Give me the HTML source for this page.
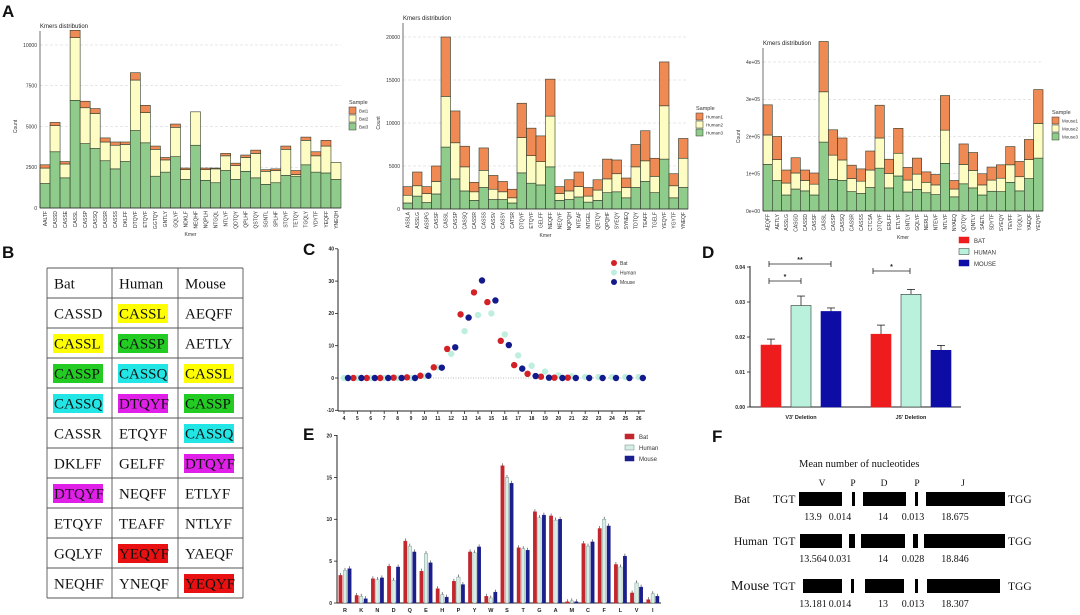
<!DOCTYPE html>
<html><head><meta charset="utf-8"><style>
html,body{margin:0;padding:0;background:#fff;}
svg{display:block;font-family:"Liberation Sans",sans-serif;}
.serif{font-family:"Liberation Serif",serif;}
</style></head><body>
<svg id="fig" width="1080" height="615" viewBox="0 0 1080 615"></svg>
<script>
// ---------- DATA ----------
// Panel A1 (Bat) cumulative stack tops
const a1Cats=["AALTF","CASSD","CASSE","CASSL","CASSP","CASSQ","CASSR","CASSS","DKLFF","DTQYF","ETQYF","GGTQY","GNTLY","GQLYF","NDKLF","NEQHF","NQPLH","NTGQL","NTLYF","QDTQY","QPLHF","QSTQY","SGNTL","SPLHF","STQYF","TETQY","TGQLY","YDYTF","YEQFF","YNEQH"];
const a1Bat3=[1500,3450,1850,6600,3950,3650,2900,2400,2850,4750,4000,1950,2200,3150,1750,3850,1700,1550,2300,1750,2250,1850,1450,1550,2000,1950,2650,2200,2150,1750];
const a1Bat3plus2=[2450,5050,2700,10450,6150,5800,4050,3850,3900,7850,5850,3600,2950,4950,2350,5900,2350,2400,3200,2600,3100,3350,2250,2300,3600,2050,4150,3200,3800,2800];
const a1Total=[2650,5250,2850,10900,6550,6100,4300,4050,4050,8300,6300,3800,3100,5150,2450,5900,2450,2450,3350,2750,3250,3550,2350,2400,3800,2300,4350,3450,4150,2800];
const a1Ticks=[0,2500,5000,7500,10000];
const a1TickLabels=["0","2500","5000","7500","10000"];
// Panel A2 (Human)
const a2Cats=["ASSLA","ASSLG","ASSPG","CASSF","CASSL","CASSP","CASSQ","CASSR","CASSS","CASSV","CASSY","CATSR","DTQYF","ETQYF","GELFF","NEQFF","NEQYF","NQPQH","NTEAF","NTGEL","QETQY","QPQHF","SYEQY","SYNEQ","TDTQY","TEAFF","TGELF","YEQYF","YGYTF","YNEQF"];
const a2Human3=[700,1500,750,1750,7200,3500,2100,1000,2500,1100,1100,700,4200,3000,2800,4900,1000,1100,1400,800,1000,1900,2000,1300,2500,3200,1900,5800,1300,2500];
const a2Human3plus2=[1600,2700,1800,3200,13100,7700,4900,2000,4500,2300,2000,1300,8300,6200,5500,10800,1800,2100,2600,1500,2200,3500,4100,2500,4900,5600,3800,12000,2700,5900];
const a2Total=[2600,4300,2600,5000,20000,11400,7300,3100,7100,3900,3200,2300,12300,9400,8500,15100,2600,3400,4300,2500,3400,5800,5700,3600,7500,9100,5900,17100,4100,8200];
const a2Ticks=[0,5000,10000,15000,20000];
const a2TickLabels=["0","5000","10000","15000","20000"];
// Panel A3 (Mouse), thousands
const a3Cats=["AEQFF","AETLY","ASSLG","CASGD","CASSD","CASSF","CASSL","CASSP","CASSQ","CASSR","CASSS","CTCSA","DTQYF","ERLFF","ETLYF","GNTLY","GQLYF","NERLF","NTEVF","NTLYF","NYAEQ","QDTQY","QNTLY","SAETL","SDYTF","SYEQY","TEVFF","TGQLY","YAEQF","YEQYF"];
const a3Mouse3=[125,82,43,59,54,43,185,85,82,52,47,63,115,62,94,51,58,49,44,128,38,73,62,43,53,52,77,54,87,142];
const a3Mouse3plus2=[204,138,75,102,82,72,320,150,137,87,80,110,196,101,155,83,99,77,70,217,59,125,109,70,83,88,124,92,138,235];
const a3Total=[285,200,110,143,110,102,455,218,196,123,113,161,284,139,222,117,142,105,98,310,82,180,157,100,118,124,173,133,192,326];
const a3Ticks=[0,100,200,300,400];
const a3TickLabels=["0e+00","1e+05","2e+05","3e+05","4e+05"];
// Panel C
const cLengths=[4,5,6,7,8,9,10,11,12,13,14,15,16,17,18,19,20,21,22,23,24,25,26];
const cBat=[null,0,0,0,0.1,0.2,0.7,3.3,9,19.7,26.5,23.5,11.5,4,1.3,0.4,0.1,0.1,null,null,null,null,null];
const cHuman=[0,0,0,0,0,0,0.5,3.3,7.5,14.5,19.5,20,13.5,7,3.8,2,0.8,0.5,0.3,0.3,0.3,0.3,0.3];
const cMouse=[0,0,0,0,0,0,0.7,3.2,9.5,18.7,30.2,24,10.2,2.9,0.6,0.1,0,0,0,0,0,0,0];
const cTicks=[-10,0,10,20,30,40];
// Panel D
const dGroups=["V3' Deletion","J5' Deletion"];
const dBat=[0.0177,0.0208], dBatErr=[0.0017,0.0026];
const dHuman=[0.029,0.0322], dHumanErr=[0.0027,0.0014];
const dMouse=[0.0273,0.0162], dMouseErr=[0.001,0.0014];
const dTicks=[0,0.01,0.02,0.03,0.04];
const dTickLabels=["0.00","0.01","0.02","0.03","0.04"];
// Panel E
const eAA=["R","K","N","D","Q","E","H","P","Y","W","S","T","G","A","M","C","F","L","V","I"];
const eBat=[3.3,0.9,2.9,4.4,7.4,3.8,1.7,2.6,6.1,0.8,16.4,6.6,10.9,10.4,0.15,7.1,8.9,4.6,1.2,0.4];
const eHuman=[3.9,0.8,2.8,2.7,6.8,5.9,1.0,3.1,6.0,0.6,15.0,6.5,10.2,9.9,0.25,6.8,10.0,4.3,2.4,1.1];
const eMouse=[4.1,0.5,3.0,4.3,6.1,4.8,0.7,2.2,6.7,1.3,14.3,6.3,10.5,10.0,0.15,7.3,9.2,5.6,1.9,0.8];
const eTicks=[0,5,10,15,20];
// Panel F
const fSpecies=["Bat","Human","Mouse"];
const fV=["13.9","13.564","13.181"], fP1=["0.014","0.031","0.014"], fD=["14","14","13"], fP2=["0.013","0.028","0.013"], fJ=["18.675","18.846","18.307"];

// ---------- HELPERS ----------
const NS="http://www.w3.org/2000/svg";
const svg=document.getElementById('fig');
function el(tag,attrs,parent){const e=document.createElementNS(NS,tag);for(const k in attrs)e.setAttribute(k,attrs[k]);(parent||svg).appendChild(e);return e;}
function txt(s,attrs,parent){const e=el('text',attrs,parent);e.textContent=s;return e;}
function panelLabel(s,x,y){const t=txt(s,{x:x,y:y,'font-size':17,'font-weight':'bold',fill:'#111'});

}

const GREEN="#8fcb8a",YEL="#fdfcc2",ORG="#f08a55";

function stackChart(id,cats,c1,c2,c3,ticks,tickLabels,ax,y0,refPix,refVal,xEnd,legendNames,lx,ly){
  const g=el('g',{});
  
  
  const y=v=>y0-(v/refVal)*(y0-refPix);
  ticks.forEach((t,i)=>{
    if(t>0){const gl=el('line',{x1:ax,x2:xEnd,y1:y(t),y2:y(t),stroke:'#cfcfcf','stroke-width':0.6,'stroke-dasharray':'3,2'},g);
      
      }
    const tl=txt(tickLabels[i],{x:ax-3,y:y(t)+1.8,'font-size':5,'text-anchor':'end',fill:'#333'},g);
    
    
  });
  const n=cats.length,bw=(xEnd-ax)/n;
  cats.forEach((c,i)=>{
    const x=ax+i*bw;
    const r1=el('rect',{x:x,y:y(c1[i]),width:bw,height:y0-y(c1[i]),fill:GREEN,stroke:'#2d3a2a','stroke-width':0.6},g);
    
    
    const r2=el('rect',{x:x,y:y(c2[i]),width:bw,height:y(c1[i])-y(c2[i]),fill:YEL,stroke:'#2d3a2a','stroke-width':0.6},g);
    
    
    const r3=el('rect',{x:x,y:y(c3[i]),width:bw,height:y(c2[i])-y(c3[i]),fill:ORG,stroke:'#2d3a2a','stroke-width':0.6},g);
    
    
    const cl=txt(c,{x:0,y:0,'font-size':5,'text-anchor':'end',fill:'#333',transform:`translate(${x+bw/2+1.8},${y0+3}) rotate(-90)`},g);
    
    
  });
  el('line',{x1:ax,x2:ax,y1:refPix-14,y2:y0,stroke:'#333','stroke-width':0.7},g);
  el('line',{x1:ax,x2:xEnd,y1:y0,y2:y0,stroke:'#333','stroke-width':0.7},g);
  const tt=txt('Kmers distribution',{x:ax,y:refPix-17,'font-size':6,fill:'#222'},g);
  
  
  const xt=txt('Kmer',{x:(ax+xEnd)/2,y:y0+28,'font-size':5,'text-anchor':'middle',fill:'#333'},g);
  
  
  const yt=txt('Count',{x:0,y:0,'font-size':5,'text-anchor':'middle',fill:'#333',transform:`translate(${ax-23},${(y0+refPix)/2}) rotate(-90)`},g);
  
  
  const lg=el('g',{},g);
  
  
  txt('Sample',{x:lx,y:ly,'font-size':5.5,fill:'#333'},lg);
  [ORG,YEL,GREEN].forEach((col,k)=>{
    el('rect',{x:lx,y:ly+3+k*8,width:7,height:7,fill:col,stroke:'#333','stroke-width':0.5},lg);
    const le=txt(legendNames[k],{x:lx+10,y:ly+8.5+k*8,'font-size':4.5,fill:'#333'},lg);
    
    
  });
}

// ---------- PANEL A ----------
panelLabel('A',2,17);
stackChart('kmer-chart-bat',a1Cats,a1Bat3,a1Bat3plus2,a1Total,a1Ticks,a1TickLabels,40,208,45,10000,341,["Bat1","Bat2","Bat3"],349,104);
stackChart('kmer-chart-human',a2Cats,a2Human3,a2Human3plus2,a2Total,a2Ticks,a2TickLabels,403,209,37,20000,688,["Human1","Human2","Human3"],696,110);
stackChart('kmer-chart-mouse',a3Cats,a3Mouse3,a3Mouse3plus2,a3Total,a3Ticks,a3TickLabels,763,211,62,400,1043,["Mouse1","Mouse2","Mouse3"],1052,114);

// ---------- PANEL B ----------
panelLabel('B',2,258);
(function(){
  const rows=[["Bat","Human","Mouse"],["CASSD","CASSL","AEQFF"],["CASSL","CASSP","AETLY"],["CASSP","CASSQ","CASSL"],["CASSQ","DTQYF","CASSP"],["CASSR","ETQYF","CASSQ"],["DKLFF","GELFF","DTQYF"],["DTQYF","NEQFF","ETLYF"],["ETQYF","TEAFF","NTLYF"],["GQLYF","YEQYF","YAEQF"],["NEQHF","YNEQF","YEQYF"]];
  const hl={CASSL:"#ffff00",CASSP:"#22cc22",CASSQ:"#22e6e6",DTQYF:"#e020e8",YEQYF:"#e81010"};
  const colX=[47,112,178,243],top=268,rh=30;
  const g=el('g',{class:'serif'});
  
  
  rows.forEach((r,ri)=>{
    r.forEach((s,ci)=>{
      const x=colX[ci]+7,yy=top+ri*rh+rh/2;
      if(ri>0&&hl[s]){const hr=el('rect',{x:x-1,y:yy-9,width:s.length*10,height:19,fill:hl[s]},g);
        
        }
      const t=txt(s,{x:x,y:yy+5.5,'font-size':15,fill:'#111','font-family':'Liberation Serif, serif'},g);
      
      
    });
  });
  for(let i=0;i<=rows.length;i++)el('line',{x1:47,x2:243,y1:top+i*rh,y2:top+i*rh,stroke:'#555','stroke-width':0.9},g);
  colX.forEach(x=>el('line',{x1:x,x2:x,y1:top,y2:top+rows.length*rh,stroke:'#555','stroke-width':0.9},g));
})();

// ---------- PANEL C ----------
panelLabel('C',303,255);
(function(){
  const g=el('g',{});
  
  
  const X=c=>344+(c-4)*13.4, Y=v=>378-v*3.23;
  el('line',{x1:338,x2:338,y1:249,y2:411,stroke:'#222','stroke-width':1},g);
  el('line',{x1:338,x2:645,y1:411,y2:411,stroke:'#222','stroke-width':1},g);
  el('line',{x1:338,x2:645,y1:Y(0),y2:Y(0),stroke:'#777','stroke-width':0.6,'stroke-dasharray':'1,1.5'},g);
  cTicks.forEach(t=>{el('line',{x1:335,x2:338,y1:Y(t),y2:Y(t),stroke:'#222','stroke-width':0.8},g);
    const tl=txt(String(t),{x:334,y:Y(t)+1.8,'font-size':5,'text-anchor':'end','font-weight':'bold',fill:'#222'},g);
    
    });
  cLengths.forEach(c=>{el('line',{x1:X(c),x2:X(c),y1:411,y2:414,stroke:'#222','stroke-width':0.8},g);
    const tl=txt(String(c),{x:X(c),y:420,'font-size':5,'text-anchor':'middle','font-weight':'bold',fill:'#222'},g);
    
    });
  const series=[[cHuman,0,'#bdeedf','human'],[cBat,-0.3,'#d42027','bat'],[cMouse,0.3,'#131a8c','mouse']];
  series.forEach(s=>{
    cLengths.forEach((c,i)=>{const v=s[0][i]; if(v===null)return;
      const p=el('circle',{cx:X(c+s[1]),cy:Y(v),r:3.2,fill:s[2]},g);
      
      });
  });
  [['Bat','#d42027'],['Human','#bdeedf'],['Mouse','#131a8c']].forEach((l,k)=>{
    el('circle',{cx:614,cy:263+k*9.5,r:3,fill:l[1]},g);
    const le=txt(l[0],{x:620,y:265+k*9.5,'font-size':5,fill:'#333'},g);
    
    
  });
})();

// ---------- PANEL D ----------
panelLabel('D',702,258);
(function(){
  const g=el('g',{});
  
  
  const Y=v=>407-v*3500;
  el('line',{x1:750,x2:750,y1:266,y2:407,stroke:'#222','stroke-width':1},g);
  el('line',{x1:750,x2:961,y1:407,y2:407,stroke:'#222','stroke-width':1},g);
  dTicks.forEach((t,i)=>{el('line',{x1:747,x2:750,y1:Y(t),y2:Y(t),stroke:'#222','stroke-width':0.8},g);
    const tl=txt(dTickLabels[i],{x:745,y:Y(t)+1.8,'font-size':5,'text-anchor':'end','font-weight':'bold',fill:'#222'},g);
    
    });
  const groupX=[761,871];
  const sers=[[dBat,dBatErr,'#ee1c1c','#ee1c1c','bat'],[dHuman,dHumanErr,'#b9f1dc','#333','human'],[dMouse,dMouseErr,'#0d0da6','#0d0da6','mouse']];
  dGroups.forEach((gname,gi)=>{
    sers.forEach((s,si)=>{
      const x=groupX[gi]+si*30,v=s[0][gi],e=s[1][gi];
      el('line',{x1:x+10,x2:x+10,y1:Y(v),y2:Y(v+e),stroke:'#222','stroke-width':0.8},g);
      el('line',{x1:x+6,x2:x+14,y1:Y(v+e),y2:Y(v+e),stroke:'#222','stroke-width':0.8},g);
      const b=el('rect',{x:x,y:Y(v),width:20,height:407-Y(v),fill:s[2],stroke:s[3],'stroke-width':0.6},g);
      
      
    });
    const gl=txt(gname,{x:groupX[gi]+40,y:419,'font-size':5.5,'font-weight':'bold','text-anchor':'middle',fill:'#222'},g);
    
    
  });
  [[769,831,264,'**'],[769,801,281,'*'],[873,910,271,'*']].forEach(b=>{
    el('line',{x1:b[0],x2:b[1],y1:b[2],y2:b[2],stroke:'#222','stroke-width':0.8},g);
    el('line',{x1:b[0],x2:b[0],y1:b[2]-3,y2:b[2]+3,stroke:'#222','stroke-width':0.8},g);
    el('line',{x1:b[1],x2:b[1],y1:b[2]-3,y2:b[2]+3,stroke:'#222','stroke-width':0.8},g);
    const st=txt(b[3],{x:(b[0]+b[1])/2,y:b[2]-2,'font-size':7,'font-weight':'bold','text-anchor':'middle',fill:'#222'},g);
    
    
  });
  [['BAT','#ee1c1c','#ee1c1c'],['HUMAN','#b9f1dc','#333'],['MOUSE','#0d0da6','#0d0da6']].forEach((l,k)=>{
    el('rect',{x:959,y:237+k*11.5,width:10,height:6,fill:l[1],stroke:l[2],'stroke-width':0.5},g);
    const le=txt(l[0],{x:974,y:243+k*11.5,'font-size':6,fill:'#333'},g);
    
    
  });
})();

// ---------- PANEL E ----------
panelLabel('E',303,440);
(function(){
  const g=el('g',{});
  
  
  const Y=v=>603-v*8.37, X=i=>345+i*16.2;
  el('line',{x1:337,x2:337,y1:435,y2:603,stroke:'#222','stroke-width':1},g);
  el('line',{x1:337,x2:661,y1:603,y2:603,stroke:'#222','stroke-width':1},g);
  eTicks.forEach(t=>{el('line',{x1:334,x2:337,y1:Y(t),y2:Y(t),stroke:'#222','stroke-width':0.8},g);
    const tl=txt(String(t),{x:332,y:Y(t)+1.8,'font-size':5,'text-anchor':'end','font-weight':'bold',fill:'#222'},g);
    
    });
  const sers=[[eBat,-4.5,'#c1272d','#c1272d','bat'],[eHuman,0,'#d6eee6','#6a8a80','human'],[eMouse,4.5,'#1b1f8c','#1b1f8c','mouse']];
  eAA.forEach((a,i)=>{
    sers.forEach(s=>{
      const v=s[0][i],x=X(i)+s[1]-1.7;
      el('line',{x1:x+1.7,x2:x+1.7,y1:Y(v),y2:Y(v+0.3),stroke:'#333','stroke-width':0.6},g);
      const b=el('rect',{x:x,y:Y(v),width:3.4,height:603-Y(v),fill:s[2],stroke:s[3],'stroke-width':0.4},g);
      
      
    });
    const tl=txt(a,{x:X(i),y:612,'font-size':5.5,'font-weight':'bold','text-anchor':'middle',fill:'#222'},g);
    
    
  });
  [['Bat','#c1272d','#c1272d'],['Human','#d6eee6','#6a8a80'],['Mouse','#1b1f8c','#1b1f8c']].forEach((l,k)=>{
    el('rect',{x:625,y:434+k*11,width:9,height:5,fill:l[1],stroke:l[2],'stroke-width':0.5},g);
    const le=txt(l[0],{x:639,y:439+k*11,'font-size':6,fill:'#333'},g);
    
    
  });
})();

// ---------- PANEL F ----------
panelLabel('F',712,442);
(function(){
  const g=el('g',{'font-family':'Liberation Serif, serif',fill:'#111'});
  
  
  txt('Mean number of nucleotides',{x:799,y:467,'font-size':10.5},g);
  [['V',822],['P',853],['D',884],['P',917],['J',963]].forEach(h=>{
    const t=txt(h[0],{x:h[1],y:486,'font-size':9.5,'text-anchor':'middle'},g);
    
    });
  const rowY=[499,541,586];
  const bars=[[[799,842],[852,855],[863,906],[915,918],[926,1005]],[[800,842],[849,855],[861,905],[913,918],[924,1005]],[[803,842],[851,854],[865,904],[915,918],[927,1000]]];
  const nums=[fV,fP1,fD,fP2,fJ];
  const numX=[813,840,883,913,955];
  fSpecies.forEach((sp,si)=>{
    const cy=rowY[si];
    const fs=si===2?14:11.5;
    const sl=txt(sp,{x:si===0?734:(si===1?734:731),y:cy+4,'font-size':fs},g);
    
    
    txt('TGT',{x:773,y:cy+4,'font-size':11.5},g);
    txt('TGG',{x:1008,y:cy+4,'font-size':11.5},g);
    bars[si].forEach(b=>{const r=el('rect',{x:b[0],y:cy-7,width:b[1]-b[0],height:14,fill:'#000'},g);
      
      });
    nums.forEach((arr,k)=>{const t=txt(arr[si],{x:numX[k],y:cy+21,'font-size':10,'text-anchor':'middle'},g);
      
      });
  });
})();
</script>
</body></html>
